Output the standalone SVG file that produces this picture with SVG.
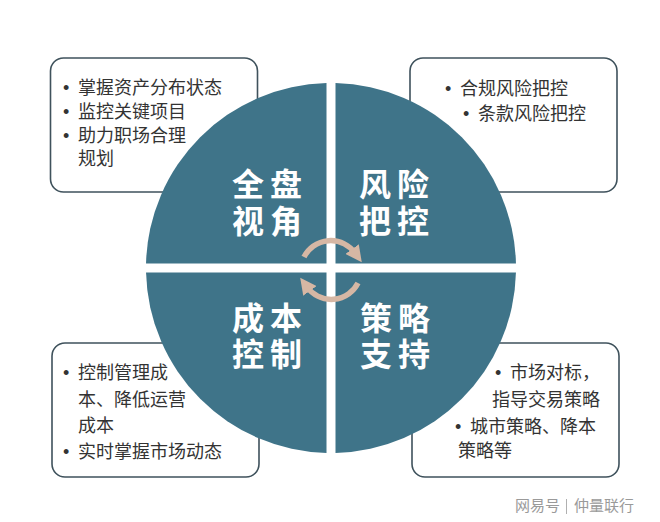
<svg xmlns="http://www.w3.org/2000/svg" width="660" height="522" viewBox="0 0 660 522">
<style>
.box{fill:#ffffff;stroke:#3f525c;stroke-width:1.6}
.quad{fill:#3f7489}
.bt{font-family:"Liberation Sans","Noto Sans CJK SC",sans-serif;font-size:18px;fill:#333333}
.ql{font-family:"Liberation Sans","Noto Sans CJK SC",sans-serif;font-size:32px;font-weight:bold;fill:#ffffff;letter-spacing:6px}
.arc{fill:none;stroke:#d6b7a4;stroke-width:5.5;stroke-linecap:butt}
.wm{font-family:"Liberation Sans","Noto Sans CJK SC",sans-serif;font-size:15px;fill:#9a9a9a}
</style>
<defs>
<marker id="ah" viewBox="0 0 10 10" refX="3" refY="5" markerWidth="3" markerHeight="3" orient="auto" markerUnits="strokeWidth">
<path d="M0,0 L10,5 L0,10 Z" fill="#d6b7a4"/>
</marker>
</defs>
<rect width="660" height="522" fill="#ffffff"/>

<g id="box-tl">
<rect class="box" x="50.5" y="58" width="207" height="134" rx="13"/>
<text class="bt"><tspan x="63" y="94">•</tspan><tspan x="78" y="94">掌握资产分布状态</tspan><tspan x="63" y="118">•</tspan><tspan x="78" y="118">监控关键项目</tspan><tspan x="63" y="142">•</tspan><tspan x="78" y="142">助力职场合理</tspan><tspan x="78" y="165">规划</tspan></text>
</g>
<g id="box-tr">
<rect class="box" x="410" y="58" width="207" height="134" rx="13"/>
<text class="bt"><tspan x="445" y="95">•</tspan><tspan x="460" y="95">合规风险把控</tspan><tspan x="463" y="120">•</tspan><tspan x="478" y="120">条款风险把控</tspan></text>
</g>
<g id="box-bl">
<rect class="box" x="52" y="343" width="207" height="134" rx="13"/>
<text class="bt"><tspan x="63" y="379">•</tspan><tspan x="78" y="379">控制管理成</tspan><tspan x="78" y="406">本、降低运营</tspan><tspan x="78" y="432">成本</tspan><tspan x="63" y="458">•</tspan><tspan x="78" y="458">实时掌握市场动态</tspan></text>
</g>
<g id="box-br">
<rect class="box" x="412" y="343" width="207" height="134" rx="13"/>
<text class="bt"><tspan x="495" y="379">•</tspan><tspan x="510" y="379">市场对标，</tspan><tspan x="492" y="406">指导交易策略</tspan><tspan x="455" y="433">•</tspan><tspan x="470" y="433">城市策略、降本</tspan><tspan x="458" y="457">策略等</tspan></text>
</g>

<g id="q-tl">
<path class="quad" d="M326.5,263.5 L146.05,263.5 A185,185 0 0 1 326.5,83.05 Z"/>
<text class="ql"><tspan x="232" y="196">全盘</tspan><tspan x="232" y="233">视角</tspan></text>
</g>
<g id="q-tr">
<path class="quad" d="M335.5,263.5 L335.5,83.05 A185,185 0 0 1 515.95,263.5 Z"/>
<text class="ql"><tspan x="359" y="196">风险</tspan><tspan x="359" y="233">把控</tspan></text>
</g>
<g id="q-bl">
<path class="quad" d="M326.5,272.5 L326.5,452.95 A185,185 0 0 1 146.05,272.5 Z"/>
<text class="ql"><tspan x="232" y="330">成本</tspan><tspan x="232" y="366">控制</tspan></text>
</g>
<g id="q-br">
<path class="quad" d="M335.5,272.5 L515.95,272.5 A185,185 0 0 1 335.5,452.95 Z"/>
<text class="ql"><tspan x="360" y="330">策略</tspan><tspan x="360" y="366">支持</tspan></text>
</g>

<g id="connectors">
<path class="arc" d="M304,257 A30,30 0 0 1 355,253" marker-end="url(#ah)"/>
<path class="arc" d="M358,283 A30,30 0 0 1 307,287" marker-end="url(#ah)"/>
</g>

<g id="watermark">
<text class="wm" x="515" y="511">网易号</text>
<rect x="566" y="499" width="1" height="15" fill="#b0b0b0"/>
<text class="wm" x="574" y="511">仲量联行</text>
</g>
</svg>
